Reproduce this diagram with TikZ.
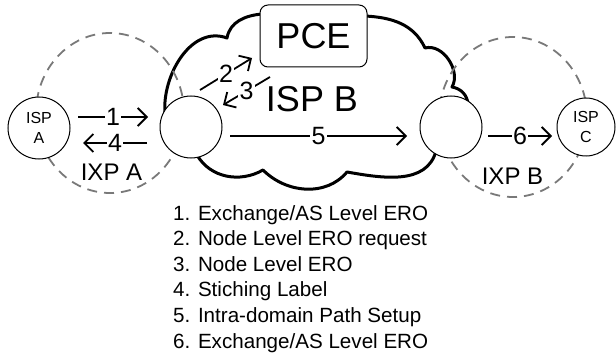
\documentclass[tikz,border=0pt]{standalone}
\usepackage{fontspec}
\setmainfont{Liberation Sans}
\usetikzlibrary{arrows.meta}
\begin{document}
\begin{tikzpicture}[x=1pt,y=1pt,
  fs/.style={font=\fontsize{#1}{#1}\selectfont},
  router/.style={circle,draw=black,line width=1pt,fill=white,minimum size=62pt,inner sep=0pt},
  ixp/.style={draw=gray!95!black,line width=1.8pt,dash pattern=on 10pt off 7pt},
  arr/.style={line width=1.8pt,-{Straight Barb[length=9pt,width=18pt,line width=1.8pt]}},
  lbl/.style={fill=white,inner sep=1.5pt,fs=25},
  legend/.style={anchor=base west,inner sep=0pt,fs=20.6}]
\useasboundingbox (0,0) rectangle (616,354);
% cloud ISP B
\draw[line width=3pt,line join=round] (165,240)
  to[out=95,in=160] (227,316)
  to[out=80,in=185] (262,340)
  to[out=0,in=180] (365,338)
  to[out=-3,in=115] (425,306)
  to[out=15,in=60] (452,267)
  to[out=-10,in=95] (468,250)
  -- (436,203)
  to[out=-105,in=-10] (347,182)
  to[out=-130,in=-45] (263,184)
  to[out=-150,in=-60] (197,199)
  -- cycle;
% IXP dashed regions
\draw[ixp] (110,241) ellipse [x radius=74,y radius=80];
\draw[ixp] (513,237) ellipse [x radius=74,y radius=80];
% nodes
\node[router] (rl) at (191,227) {};
\node[router] (rr) at (451,227) {};
\node[circle,draw=black,line width=1pt,fill=white,minimum size=62pt,inner sep=0pt,align=center,fs=16] (ispa) at (39,226) {ISP\\[4pt]A};
\node[circle,draw=black,line width=1pt,fill=white,minimum size=58pt,inner sep=0pt,align=center,fs=16] (ispc) at (586,227) {ISP\\[4pt]C};
\node[draw=black,line width=1pt,fill=white,rounded corners=8pt,minimum width=107pt,minimum height=62pt,inner sep=0pt,fs=36] (pce) at (313.5,318) {PCE};
\node[anchor=base,inner sep=0pt,fs=36] (ispb) at (312,242) {ISP B};
\node[anchor=base,inner sep=0pt,fs=24] (ixpa) at (111.5,174) {IXP A};
\node[anchor=base,inner sep=0pt,fs=24] (ixpb) at (512.5,169) {IXP B};
% connector end points
\coordinate (a1s) at (78,237);  \coordinate (a1e) at (148,237);
\coordinate (a4s) at (147,211); \coordinate (a4e) at (83,211);
\coordinate (a5s) at (230,218); \coordinate (a5e) at (407,218);
\coordinate (a6s) at (488,218); \coordinate (a6e) at (552,218);
\coordinate (a2s) at (200,264); \coordinate (a2e) at (252,296);
\coordinate (a3s) at (270,277); \coordinate (a3e) at (223,249);
\draw[arr] (a1s) -- node[lbl] (n1) {1} (a1e);
\draw[arr] (a4s) -- node[lbl] (n4) {4} (a4e);
\draw[arr] (a5s) -- node[lbl] (n5) {5} (a5e);
\draw[arr] (a6s) -- node[lbl] (n6) {6} (a6e);
\draw[arr] (a2s) -- node[lbl] (n2) {2} (a2e);
\draw[arr] (a3s) -- node[lbl] (n3) {3} (a3e);
% legend
\node[legend] (l1) at (173,134) {1. Exchange/AS Level ERO};
\node[legend] (l2) at (173,108.4) {2. Node Level ERO request};
\node[legend] (l3) at (173,82.8) {3. Node Level ERO};
\node[legend] (l4) at (173,57.2) {4. Stiching Label};
\node[legend] (l5) at (173,31.6) {5. Intra-domain Path Setup};
\node[legend] (l6) at (173,6) {6. Exchange/AS Level ERO};
\end{tikzpicture}
\end{document}
